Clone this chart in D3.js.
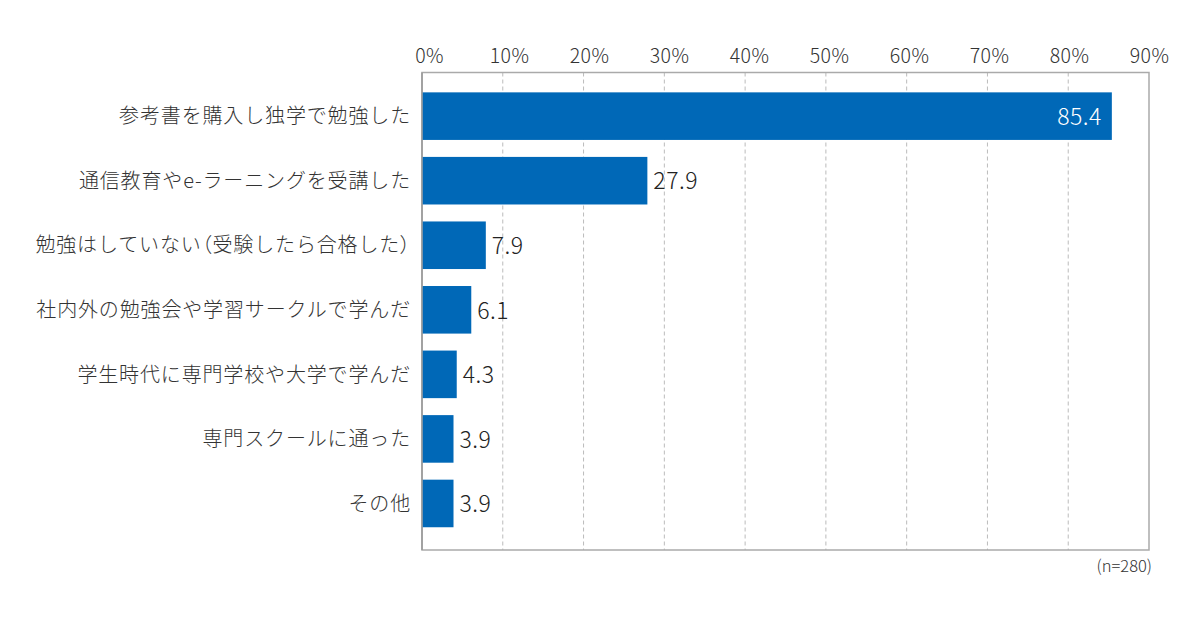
<!DOCTYPE html>
<html lang="ja">
<head>
  <meta charset="UTF-8">
  <title>勉強方法</title>
  <script src="https://d3js.org/d3.v7.min.js"></script>
  <style>
    body { margin: 0; background: #fff; }
    text { font-family: "Noto Sans CJK JP", "Noto Sans", sans-serif; font-weight: 300; }
    .paren { font-feature-settings: "palt"; }
  </style>
</head>
<body>
  <svg width="1200" height="617"></svg>

  <script>
    // data
    var categories = [
      "参考書を購入し独学で勉強した",
      "通信教育やe-ラーニングを受講した",
      "勉強はしていない（受験したら合格した）",
      "社内外の勉強会や学習サークルで学んだ",
      "学生時代に専門学校や大学で学んだ",
      "専門スクールに通った",
      "その他"
    ];
    var values = [85.4, 27.9, 7.9, 6.1, 4.3, 3.9, 3.9];
    var ticks = [0, 10, 20, 30, 40, 50, 60, 70, 80, 90];
    var note = "(n=280)";

    var svg = d3.select("svg");
    // plot box (note: "top" is reserved on window, so use other names)
    var plotL = 422, plotR = 1149, plotT = 72.5, plotB = 550;

    var x = d3.scaleLinear().domain([0, 90]).range([plotL, plotR]);
    // the original's % labels sit a little right of the grid on the left side
    var xLabel = d3.scaleLinear().domain([0, 90]).range([plotL + 7, plotR]);
    var y = d3.scaleBand()
        .domain(categories)
        .range([plotT, plotB])
        .paddingInner(0.263)
        .paddingOuter(0.33)
        .align(0.466);

    // dashed grid
    svg.append("g")
        .selectAll("line")
        .data(ticks.filter(function(t) { return t > 0 && t < 90; }))
        .enter().append("line")
        .attr("x1", function(d) { return x(d); })
        .attr("x2", function(d) { return x(d); })
        .attr("y1", plotT)
        .attr("y2", plotB)
        .attr("stroke", "#bbb")
        .attr("stroke-width", 1)
        .attr("stroke-dasharray", "4,3");

    // top axis labels
    var axis = d3.axisTop(xLabel)
        .tickValues(ticks)
        .tickSize(0)
        .tickPadding(10)
        .tickFormat(function(d) { return d + "%"; });
    var ax = svg.append("g")
        .attr("transform", "translate(0," + plotT + ")")
        .call(axis);
    ax.select(".domain").remove();
    ax.selectAll("text")
        .attr("font-size", 19.5)
        .attr("fill", "#333")
        .attr("letter-spacing", 0.4)
        .style("font-family", "'Noto Sans CJK JP', sans-serif");

    // frame
    svg.append("rect")
        .attr("x", plotL)
        .attr("y", plotT)
        .attr("width", plotR - plotL)
        .attr("height", plotB - plotT)
        .attr("fill", "none")
        .attr("stroke", "#aaa")
        .attr("stroke-width", 1.5);
    svg.append("line")
        .attr("x1", plotL).attr("x2", plotL)
        .attr("y1", plotT).attr("y2", plotB)
        .attr("stroke", "#999")
        .attr("stroke-width", 1.5);

    // bars
    svg.append("g")
        .selectAll("rect")
        .data(values)
        .enter().append("rect")
        .attr("x", x(0) + 0.75)
        .attr("y", function(d, i) { return y(categories[i]); })
        .attr("width", function(d) { return x(d) - x(0) - 0.75; })
        .attr("height", y.bandwidth())
        .attr("fill", "#0068b7");

    // value labels
    svg.append("g")
        .selectAll("text")
        .data(values)
        .enter().append("text")
        .attr("x", function(d, i) { return i === 0 ? x(d) - 10 : x(d) + 6; })
        .attr("y", function(d, i) { return y(categories[i]) + y.bandwidth() / 2; })
        .attr("dy", "0.38em")
        .attr("text-anchor", function(d, i) { return i === 0 ? "end" : "start"; })
        .attr("font-size", 23)
        .attr("letter-spacing", 0.5)
        .attr("fill", function(d, i) { return i === 0 ? "#fff" : "#222"; })
        .text(function(d) { return d.toFixed(1); });

    // category labels, full-width brackets set tighter like the original
    var catText = svg.append("g")
        .selectAll("text")
        .data(categories)
        .enter().append("text")
        .attr("x", plotL - 11)
        .attr("y", function(d) { return y(d) + y.bandwidth() / 2; })
        .attr("dy", "0.36em")
        .attr("text-anchor", "end")
        .attr("font-size", 20)
        .attr("letter-spacing", 0.85)
        .attr("fill", "#333");

    catText.each(function(d) {
      var t = d3.select(this);
      d.split(/([（）])/).filter(function(s) { return s.length; }).forEach(function(part) {
        t.append("tspan")
            .attr("class", /[（）]/.test(part) ? "paren" : null)
            .text(part);
      });
    });

    svg.append("text")
        .attr("x", 1152)
        .attr("y", 572)
        .attr("text-anchor", "end")
        .attr("font-size", 16.5)
        .attr("fill", "#333")
        .text(note);
  </script>
</body>
</html>
